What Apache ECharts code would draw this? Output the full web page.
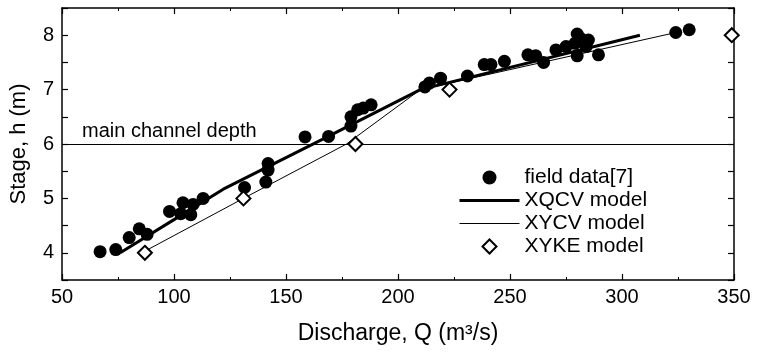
<!DOCTYPE html>
<html><head><meta charset="utf-8">
<script src="https://cdn.jsdelivr.net/npm/echarts@6/dist/echarts.min.js"></script>
<style>html,body{margin:0;padding:0;background:#fff}#c{width:762px;height:355px}</style>
</head><body><div id="c"></div>
<script>
// Field data [7]
const fieldQ = [67, 74, 80, 84.5, 88, 98, 104, 103, 107.5, 108.5, 113, 131.5, 141, 142, 142, 158.5, 169, 179, 179, 182, 184.5, 188, 212, 214, 219, 231, 238.5, 241.5, 247.5, 258, 261.5, 265, 270.5, 275, 280, 281.5, 279, 280, 285, 284, 289.5, 324, 330];
const fieldH = [4.02, 4.06, 4.28, 4.44, 4.34, 4.76, 4.92, 4.72, 4.7, 4.89, 5.0, 5.2, 5.3, 5.64, 5.52, 6.13, 6.14, 6.5, 6.33, 6.63, 6.66, 6.72, 7.05, 7.12, 7.21, 7.25, 7.46, 7.46, 7.52, 7.64, 7.62, 7.5, 7.73, 7.79, 8.02, 7.94, 7.85, 7.62, 7.91, 7.79, 7.64, 8.05, 8.1];
// XQCV model
const xqcvQ = [76, 100, 122, 166, 210, 308];
const xqcvH = [4.0, 4.61, 5.17, 6.08, 7.0, 8.0];
// XYCV model
const xycvQ = [87, 131, 177, 210, 322];
const xycvH = [4.03, 5.0, 6.0, 7.0, 8.03];
// XYKE model
const xykeQ = [87, 131, 181, 223, 349];
const xykeH = [4, 5, 6, 7, 8];
const channelDepth = 6;

const zip = (a, b) => a.map((v, i) => [v, b[i]]);
const FONT = '"Liberation Sans", Arial, sans-serif';

const chart = echarts.init(document.getElementById('c'));
const axisBase = {
  axisLine: { show: true, lineStyle: { color: '#000', width: 1.5 } },
  axisTick: { show: true, inside: true, length: 6, lineStyle: { color: '#000', width: 1.2 } },
  minorTick: { show: false },
  splitLine: { show: false }
};
chart.setOption({
  animation: false,
  backgroundColor: '#fff',
  grid: { left: 59, right: 28, top: 8, bottom: 75 },
  xAxis: [
    Object.assign({}, axisBase, {
      type: 'value', min: 50, max: 350, interval: 50,
      minorTick: { show: true, splitNumber: 2, length: 3, lineStyle: { color: '#000', width: 1 } },
      axisLabel: { color: '#000', fontSize: 20, fontFamily: FONT, margin: 7 },
      name: 'Discharge, Q (m³/s)', nameLocation: 'middle', nameGap: 42,
      nameTextStyle: { color: '#000', fontSize: 23, fontFamily: FONT }
    }),
    Object.assign({}, axisBase, {
      type: 'value', position: 'top', min: 50, max: 350, interval: 50,
      minorTick: { show: true, splitNumber: 2, length: 3, lineStyle: { color: '#000', width: 1 } },
      axisLabel: { show: false }
    })
  ],
  yAxis: [
    Object.assign({}, axisBase, {
      type: 'value', min: 3.5, max: 8.5, interval: 0.5,
      axisLabel: { color: '#000', fontSize: 20, fontFamily: FONT, margin: 8,
        formatter: v => (Math.abs(v - Math.round(v)) < 1e-6 ? String(Math.round(v)) : '') },
      name: 'Stage, h (m)', nameLocation: 'middle', nameGap: 32,
      nameTextStyle: { color: '#000', fontSize: 22, fontFamily: FONT }
    }),
    Object.assign({}, axisBase, {
      type: 'value', position: 'right', min: 3.5, max: 8.5, interval: 0.5,
      axisLabel: { show: false }
    })
  ],
  legend: {
    orient: 'vertical', left: 458, top: 166, padding: 0,
    itemWidth: 60, itemHeight: 14, itemGap: 0,
    symbolKeepAspect: true,
    textStyle: { color: '#000', fontSize: 21, fontFamily: FONT, lineHeight: 23 },
    data: [
      { name: 'field data[7]' },
      { name: 'XQCV model', itemStyle: { opacity: 0 }, lineStyle: { width: 3, color: '#000' } },
      { name: 'XYCV model', itemStyle: { opacity: 0 }, lineStyle: { width: 1, color: '#000' } },
      { name: 'XYKE model', icon: 'path://M6,0 L12,6 L6,12 L0,6 Z',
        itemStyle: { color: '#fff', borderColor: '#000', borderWidth: 2 } }
    ]
  },
  series: [
    {
      name: 'main channel depth', type: 'line', data: [], silent: true,
      markLine: {
        silent: true, symbol: 'none',
        lineStyle: { color: '#000', width: 1, type: 'solid' },
        label: { show: true, position: 'insideStartTop', formatter: 'main channel depth',
          color: '#000', fontSize: 20, fontFamily: FONT, distance: [20, 3] },
        data: [{ yAxis: channelDepth }]
      }
    },
    {
      name: 'XQCV model', type: 'line', data: zip(xqcvQ, xqcvH), showSymbol: false, symbol: 'none',
      itemStyle: { color: '#000' }, lineStyle: { color: '#000', width: 3 }, z: 3
    },
    {
      name: 'XYCV model', type: 'line', data: zip(xycvQ, xycvH), showSymbol: false, symbol: 'none',
      itemStyle: { color: '#000' }, lineStyle: { color: '#000', width: 1 }, z: 3
    },
    {
      name: 'field data[7]', type: 'scatter', data: zip(fieldQ, fieldH), symbol: 'circle', symbolSize: 13,
      itemStyle: { color: '#000', opacity: 1 }, z: 4
    },
    {
      name: 'XYKE model', type: 'scatter', data: zip(xykeQ, xykeH), symbol: 'diamond', symbolSize: 14,
      itemStyle: { color: '#fff', borderColor: '#000', borderWidth: 2, opacity: 1 }, z: 5
    }
  ]
});
</script>
</body></html>
